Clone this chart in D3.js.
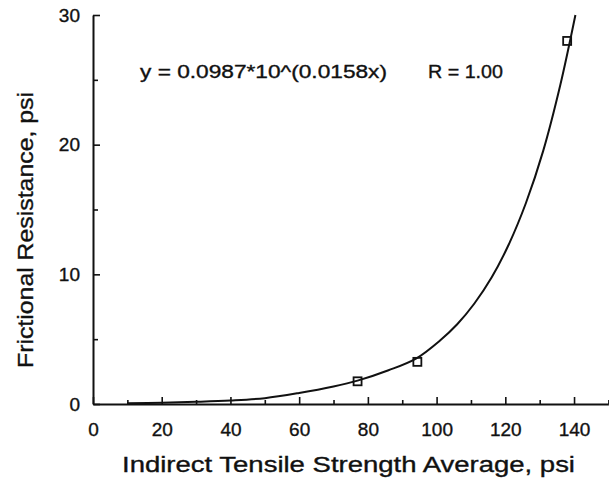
<!DOCTYPE html>
<html>
<head>
<meta charset="utf-8">
<script src="https://cdn.jsdelivr.net/npm/d3@7"></script>
<style>
  body { margin: 0; background: #fff; }
  svg text { font-family: "Liberation Sans", Arial, Helvetica, sans-serif; fill: #111; stroke: #111; stroke-width: 0.35px; }
</style>
</head>
<body>
<div id="vizArea"></div>
<script>
var w = 609
var h = 482

// DATA ********************************
// measured points (x = ITS average, y = frictional resistance)
var pointX = [77, 94.4, 138]
var pointY = [1.75, 3.25, 28]

// fitted curve
var curveX = [10, 20, 30, 40, 50, 60, 70, 77, 86, 94, 101, 106, 111, 116, 121, 126, 131, 136, 140.4]
var curveY = [0.05, 0.1, 0.17, 0.27, 0.45, 0.85, 1.35, 1.8, 2.6, 3.5, 4.9, 6.15, 7.75, 9.75, 12.3, 15.5, 19.5, 24.6, 30]

var xMajor = [0, 20, 40, 60, 80, 100, 120, 140]
var xMinor = [10, 30, 50, 70, 90, 110, 130, 150]
var yMajor = [0, 10, 20, 30]
var yMinor = [5, 15, 25]

var fitLabel = "y = 0.0987*10^(0.0158x)"
var rLabel = "R = 1.00"

// SET-UP ********************************
var svg = d3.select("#vizArea").append("svg")
    .attr("width", w)
    .attr("height", h);

var x = d3.scaleLinear().domain([0, 150]).range([93, 608.4]);
var y = d3.scaleLinear().domain([0, 30]).range([404, 15]);

// x axis, ticks pointing up into the plot
svg.append("g")
    .attr("transform", "translate(0," + y(0) + ")")
    .call(d3.axisBottom(x).tickValues(xMajor).tickSize(-7).tickPadding(19).tickSizeOuter(0));

svg.append("g")
    .attr("transform", "translate(0," + y(0) + ")")
    .call(d3.axisBottom(x).tickValues(xMinor).tickSize(-4).tickFormat("").tickSizeOuter(0))
    .select(".domain").remove();

// y axis, ticks pointing right
svg.append("g")
    .attr("transform", "translate(" + x(0) + ",0)")
    .call(d3.axisLeft(y).tickValues(yMajor).tickSize(-7).tickPadding(13).tickSizeOuter(0));

svg.append("g")
    .attr("transform", "translate(" + x(0) + ",0)")
    .call(d3.axisLeft(y).tickValues(yMinor).tickSize(-5).tickFormat("").tickSizeOuter(0))
    .select(".domain").remove();

svg.selectAll(".domain").attr("stroke", "#111").attr("stroke-width", 2);
svg.selectAll(".tick line").attr("stroke", "#111").attr("stroke-width", 1.6);
svg.selectAll(".tick text")
    .style("font-size", "19px")
    .attr("fill", "#111");

// CURVE ********************************
var curveData = curveX.map(function(d, i){ return [d, curveY[i]]; });

var line = d3.line()
    .x(function(d){ return x(d[0]); })
    .y(function(d){ return y(d[1]); })
    .curve(d3.curveCatmullRom.alpha(0.5));

svg.append("path")
    .datum(curveData)
    .attr("d", line)
    .attr("fill", "none")
    .attr("stroke", "#111")
    .attr("stroke-width", 2);

// points as open squares
var pts = pointX.map(function(d, i){ return {x: d, y: pointY[i]}; });
svg.selectAll("rect.pt")
    .data(pts)
    .enter()
    .append("rect")
    .attr("class", "pt")
    .attr("x", function(d){ return x(d.x) - 4; })
    .attr("y", function(d){ return y(d.y) - 4; })
    .attr("width", 8)
    .attr("height", 8)
    .attr("fill", "none")
    .attr("stroke", "#111")
    .attr("stroke-width", 1.8);

// TEXT ********************************
// the original type is wider than Arial, so stretch to the measured widths
svg.append("text")
    .attr("x", 140)
    .attr("y", 78)
    .attr("textLength", 247)
    .attr("lengthAdjust", "spacingAndGlyphs")
    .style("font-size", "18px")
    .text(fitLabel);

svg.append("text")
    .attr("x", 428)
    .attr("y", 78)
    .attr("textLength", 75)
    .attr("lengthAdjust", "spacingAndGlyphs")
    .style("font-size", "18px")
    .text(rLabel);

svg.append("text")
    .attr("x", 122)
    .attr("y", 472)
    .attr("textLength", 453)
    .attr("lengthAdjust", "spacingAndGlyphs")
    .style("font-size", "22px")
    .text("Indirect Tensile Strength Average, psi");

svg.append("text")
    .attr("transform", "translate(33,368) rotate(-90)")
    .attr("textLength", 276)
    .attr("lengthAdjust", "spacingAndGlyphs")
    .style("font-size", "22px")
    .text("Frictional Resistance, psi");
</script>
</body>
</html>
